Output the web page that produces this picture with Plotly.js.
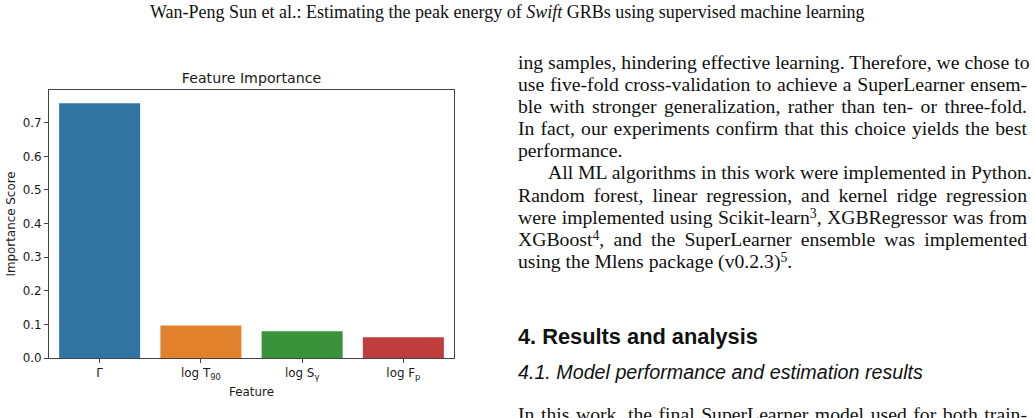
<!DOCTYPE html>
<html>
<head>
<meta charset="utf-8">
<script src="https://cdn.plot.ly/plotly-3.0.1.min.js"></script>
<style>
  html, body { margin: 0; padding: 0; background: #fff; }
  #page { position: relative; width: 1035px; height: 418px; overflow: hidden; background: #fff; color: #111; }
  #chart { position: absolute; left: 0; top: 0; width: 480px; height: 418px; }
  .serif { font-family: "Liberation Serif", "Times New Roman", serif; }
  #header { position: absolute; left: 150px; top: 3.2px; font-size: 18px; line-height: 18px; white-space: nowrap; }
  #col { position: absolute; left: 518px; top: 50.5px; width: 509px; font-size: 19.7px; line-height: 22.2px; }
  .ln { text-align: justify; text-align-last: justify; white-space: nowrap; height: 22.2px; }
  .ln.end { text-align-last: left; }
  .ln.ind { text-indent: 30px; }
  sup { font-size: 0.7em; line-height: 0; vertical-align: baseline; position: relative; top: -0.42em; }
  #h4 { position: absolute; left: 518px; top: 326.4px; font-family: "Liberation Sans", Arial, sans-serif; font-weight: bold; font-size: 21.8px; line-height: 21.8px; white-space: nowrap; }
  #h41 { position: absolute; left: 518px; top: 362.9px; font-family: "Liberation Sans", Arial, sans-serif; font-style: italic; font-size: 19.7px; line-height: 19.7px; white-space: nowrap; }
  #last { position: absolute; left: 518px; top: 402.9px; width: 509px; font-size: 19.7px; line-height: 22.2px; }
</style>
</head>
<body>
<div id="page">
  <div id="header" class="serif">Wan-Peng Sun et al.: Estimating the peak energy of <i>Swift</i> GRBs using supervised machine learning</div>
  <div id="chart"></div>
  <div id="col" class="serif">
    <div class="ln">ing samples, hindering effective learning. Therefore, we chose to</div>
    <div class="ln">use five-fold cross-validation to achieve a SuperLearner ensem-</div>
    <div class="ln">ble with stronger generalization, rather than ten- or three-fold.</div>
    <div class="ln">In fact, our experiments confirm that this choice yields the best</div>
    <div class="ln end">performance.</div>
    <div class="ln ind">All ML algorithms in this work were implemented in Python.</div>
    <div class="ln">Random forest, linear regression, and kernel ridge regression</div>
    <div class="ln">were implemented using Scikit-learn<sup>3</sup>, XGBRegressor was from</div>
    <div class="ln">XGBoost<sup>4</sup>, and the SuperLearner ensemble was implemented</div>
    <div class="ln end">using the Mlens package (v0.2.3)<sup>5</sup>.</div>
  </div>
  <div id="h4">4. Results and analysis</div>
  <div id="h41">4.1. Model performance and estimation results</div>
  <div id="last" class="serif"><div class="ln">In this work, the final SuperLearner model used for both train-</div></div>
</div>
<script>
// ---- data ----
const features = ['Γ', 'log T<sub>90</sub>', 'log S<sub>γ</sub>', 'log F<sub>p</sub>'];
const importance = [0.758, 0.0965, 0.0795, 0.0617];
const yTicks = [0.0, 0.1, 0.2, 0.3, 0.4, 0.5, 0.6, 0.7];
const yTickLabels = ['0.0', '0.1', '0.2', '0.3', '0.4', '0.5', '0.6', '0.7'];

// ---- style ----
const palette = ['#3274a1', '#e1812c', '#3a923a', '#c03d3e'];
const font = 'DejaVu Sans';
const txt = '#1a1a1a';
const spine = '#444';

const trace = {
  type: 'bar',
  x: features,
  y: importance,
  width: 0.8,
  marker: { color: palette, line: { width: 0 } },
  hoverinfo: 'skip'
};

const axisCommon = {
  showline: true, mirror: true, linecolor: spine, linewidth: 1,
  ticks: 'outside', ticklen: 4, tickwidth: 1, tickcolor: spine,
  showgrid: false, zeroline: false,
  tickfont: { family: font, size: 11.9, color: txt },
  automargin: false, fixedrange: true
};

const layout = {
  width: 480, height: 418,
  margin: { l: 49, r: 26, t: 90, b: 60 },
  paper_bgcolor: 'rgba(0,0,0,0)', plot_bgcolor: '#fff',
  showlegend: false,
  title: {
    text: 'Feature Importance',
    font: { family: font, size: 14.2, color: txt },
    x: 0.5, xref: 'paper', xanchor: 'center',
    y: 1 - 78 / 418, yref: 'container', yanchor: 'middle'
  },
  xaxis: Object.assign({}, axisCommon, {
    type: 'category', range: [-0.5, 3.5],
    title: { text: 'Feature', font: { family: font, size: 11.9, color: txt }, standoff: 6 }
  }),
  yaxis: Object.assign({}, axisCommon, {
    range: [0, 0.7975],
    tickmode: 'array', tickvals: yTicks, ticktext: yTickLabels,
    title: { text: 'Importance Score', font: { family: font, size: 11.9, color: txt }, standoff: 4 }
  })
};

Plotly.newPlot('chart', [trace], layout, { displayModeBar: false, staticPlot: true });
</script>
</body>
</html>
